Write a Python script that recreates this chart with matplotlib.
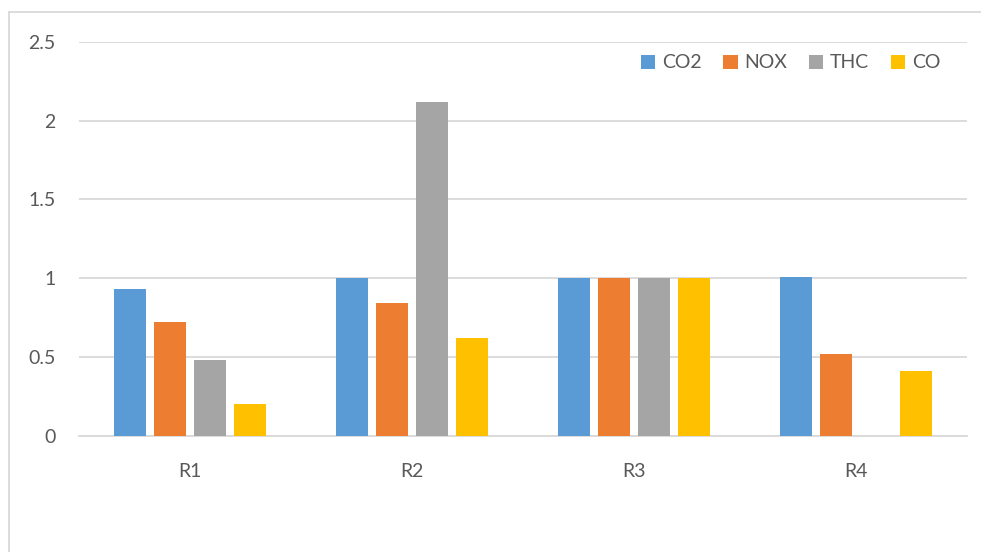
import matplotlib.pyplot as plt
import numpy as np
from matplotlib.lines import Line2D

plt.rcParams['font.family'] = ['Lato', 'DejaVu Sans']

# Emission ratios per run
runs = ['R1', 'R2', 'R3', 'R4']
co2 = [0.93, 1.0, 1.0, 1.01]
nox = [0.72, 0.84, 1.0, 0.52]
thc = [0.48, 2.12, 1.0, 0.0]
co = [0.20, 0.62, 1.0, 0.41]

series = [('CO2', co2, '#5b9bd5'), ('NOX', nox, '#ed7d31'),
          ('THC', thc, '#a5a5a5'), ('CO', co, '#ffc000')]

text_col = '#595959'
grid_col = '#d9d9d9'

fig = plt.figure(figsize=(9.81, 5.52), dpi=100)
ax = fig.add_axes([79 / 981, 1 - 435.7 / 552, 888 / 981, 394 / 552])

x = np.arange(len(runs))
width = 0.144
step = 0.1815
for i, (name, vals, col) in enumerate(series):
    ax.bar(x + (i - 1.5) * step, vals, width, color=col, label=name, zorder=3)

ax.set_xlim(-0.5, 3.5)
ax.set_ylim(0, 2.5)
ax.set_yticks([0, 0.5, 1, 1.5, 2, 2.5])
ax.set_yticklabels(['0', '0.5', '1', '1.5', '2', '2.5'])
ax.set_xticks(x)
ax.set_xticklabels(runs)
ax.yaxis.grid(True, color=grid_col, linewidth=1.3, zorder=0)
ax.tick_params(axis='both', length=0, labelsize=14, colors=text_col)
ax.tick_params(axis='x', pad=20)
ax.tick_params(axis='y', pad=17)
for s in ['left', 'right', 'top']:
    ax.spines[s].set_visible(False)
ax.spines['bottom'].set_color(grid_col)
ax.spines['bottom'].set_linewidth(1.3)

leg = ax.legend(loc='center right', bbox_to_anchor=(950 / 981, 1 - 63 / 552),
                bbox_transform=fig.transFigure, ncol=4, frameon=False,
                fontsize=14, handlelength=0.75, handleheight=0.75,
                handletextpad=0.35, columnspacing=1.1, borderpad=0)
for t in leg.get_texts():
    t.set_color(text_col)

# chart area border (top and left edges)
fig.add_artist(Line2D([9 / 981, 9 / 981], [0, 1 - 12 / 552], color=grid_col, linewidth=1.3))
fig.add_artist(Line2D([9 / 981, 1], [1 - 12 / 552, 1 - 12 / 552], color=grid_col, linewidth=1.3))

fig.savefig('out.png', dpi=100)
